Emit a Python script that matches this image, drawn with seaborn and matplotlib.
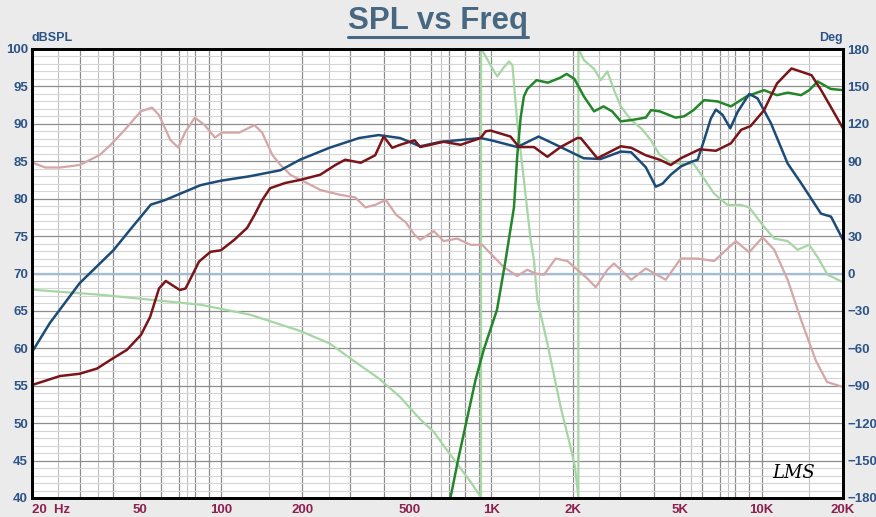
import numpy as np
import pandas as pd
import matplotlib.pyplot as plt
import seaborn as sns
from matplotlib.lines import Line2D
from matplotlib.ticker import NullFormatter

sns.set_style('white')
plt.rcParams['font.family'] = ['Liberation Sans', 'DejaVu Sans']

# SPL curves (dB, left axis)
blue_f = [20, 23.3, 30, 40, 46, 55, 62, 84, 100, 128, 166, 196, 252, 324, 383, 460, 546, 651,
          913, 1000, 1248, 1496, 1805, 2196, 2540, 3012, 3292, 3728, 4060, 4300, 4612, 5024,
          5470, 5800, 6124, 6486, 6773, 7168, 7657, 8152, 9000, 9660, 10820, 12480, 13980,
          16580, 18060, 20000]
blue_db = [59.5, 63.4, 68.7, 73.1, 75.8, 79.2, 79.8, 81.8, 82.4, 83.0, 83.8, 85.2, 86.8, 88.1,
           88.5, 88.1, 87.0, 87.6, 88.1, 87.8, 86.9, 88.3, 86.9, 85.4, 85.3, 86.3, 86.2, 84.2,
           81.6, 82.0, 83.2, 84.3, 84.9, 85.2, 87.8, 90.7, 91.9, 91.2, 89.4, 91.6, 94.0, 93.4,
           90.1, 84.7, 82.1, 78.0, 77.6, 74.5]

red_f = [20, 25.4, 30, 34.8, 40, 44.9, 50.6, 54.7, 59, 62.5, 70.4, 74, 83, 91.5, 100, 112, 125,
         133, 142, 152, 173, 196, 233, 265, 288, 329, 372, 400, 430, 460, 520, 546, 666, 770,
         913, 953, 994, 1178, 1266, 1438, 1612, 1805, 2080, 2142, 2468, 3012, 3292, 3728, 4200,
         4612, 5024, 5900, 6773, 7700, 8400, 9100, 10200, 11400, 12900, 15300, 16600, 18000,
         20000]
red_db = [55.1, 56.3, 56.6, 57.3, 58.7, 59.8, 61.8, 64.2, 68.0, 69.0, 67.8, 68.0, 71.6, 72.9,
          73.1, 74.5, 76.1, 77.8, 79.8, 81.4, 82.1, 82.5, 83.2, 84.5, 85.2, 84.8, 85.8, 88.3,
          86.8, 87.2, 87.8, 86.9, 87.6, 87.2, 88.1, 89.0, 89.1, 88.3, 86.9, 86.9, 85.6, 86.9,
          88.1, 88.1, 85.4, 87.0, 86.8, 85.8, 85.2, 84.5, 85.4, 86.6, 86.4, 87.4, 89.2, 89.7,
          91.8, 95.4, 97.4, 96.5, 94.5, 92.3, 89.4]

# phase curves (deg, right axis)
pink_f = [20, 22.4, 25.4, 30, 35.6, 39, 44, 50.5, 55.6, 59, 65, 69.5, 73.6, 80, 87, 95, 101,
          117, 133, 142, 155, 166, 181, 206, 233, 277, 314, 342, 372, 407, 445, 483, 520, 546,
          613, 666, 748, 838, 926, 994, 1114, 1248, 1359, 1458, 1566, 1730, 1912, 2080, 2266,
          2434, 2688, 2844, 3012, 3292, 3728, 4418, 5024, 5793, 6672, 8028, 8997, 10080,
          11133, 12480, 13978, 15880, 17460, 20000]
pink_deg = [89, 85, 85, 87, 95, 103, 115, 130, 133, 127, 107, 101, 113, 125, 119, 109, 113,
            113, 119, 113, 95, 87, 79, 73, 67, 63, 61, 53, 55, 59, 47, 41, 31, 27, 34, 26, 28,
            23, 23, 16, 5, -2, 3, 0, -1, 12, 10, 3, -4, -11, 3, 8, 3, -5, 4, -5, 12, 12, 10,
            26, 17, 29, 19, -5, -37, -70, -87, -91]

dkgreen_f = [706, 756, 875, 938, 1050, 1130, 1213, 1248, 1284, 1320, 1360, 1470, 1620, 1800,
             1900, 2030, 2200, 2400, 2600, 2800, 3012, 3292, 3728, 3900, 4200, 4800, 5166,
             5600, 6124, 6870, 7700, 8800, 10200, 11400, 12500, 14000, 15000, 16120, 18000,
             20000]
dkgreen_deg = [-180, -148, -85, -61, -29, 11, 53, 95, 125, 142, 148, 155, 153, 157, 160, 156,
               142, 130, 134, 130, 122, 123, 125, 131, 130, 125, 126, 131, 139, 138, 134, 142,
               147, 143, 145, 143, 147, 154, 148, 147]

ltgreen_f = [20, 35.6, 83.8, 128, 196, 252, 324, 383, 460, 546, 613, 651, 756, 838, 913, 916,
             916, 936, 1000, 1052, 1110, 1162, 1197, 1248, 1320, 1398, 1438, 1480, 1612, 1805,
             1968, 2040, 2100, 2100, 2204, 2400, 2540, 2688, 2844, 3012, 3292, 3600, 3890,
             4200, 4612, 5024, 5600, 6124, 6672, 7480, 8380, 9000, 10080, 11130, 12480, 13580,
             15000, 16120, 17550, 20000]
ltgreen_deg = [-13, -17, -25, -33, -46, -56, -73, -84, -99, -117, -127, -135, -154, -167, -179,
               -180, 180, 177, 166, 158, 165, 170, 167, 121, 75, 27, 11, -21, -56, -107, -140,
               -155, -180, 180, 171, 164, 155, 162, 147, 134, 123, 116, 107, 95, 89, 88, 88,
               76, 64, 55, 55, 53, 39, 28, 26, 19, 23, 13, -1, -7]

# axis ticks / grid
x_grid = [20, 30, 40, 50, 60, 70, 80, 90, 100, 200, 300, 400, 500, 600, 700, 800, 900,
          1000, 2000, 3000, 4000, 5000, 6000, 7000, 8000, 9000, 10000, 20000]
x_grid_light = [25, 35, 75, 150, 250, 650, 1500, 2500, 5500, 7500, 15000]
x_label_pos = [20, 50, 100, 200, 500, 1000, 2000, 5000, 10000, 20000]
x_label_txt = ['20  Hz', '50', '100', '200', '500', '1K', '2K', '5K', '10K', '20K']

fig = plt.figure(figsize=(8.76, 5.17), dpi=100, facecolor='#ecebec')
ax = fig.add_axes([32 / 876, 19 / 517, 811 / 876, 449 / 517])
ax2 = ax.twinx()

# phase axis (with the grid) sits behind, SPL axis on top
ax2.set_zorder(1)
ax.set_zorder(2)
ax.patch.set_visible(False)
ax2.patch.set_visible(True)
ax2.patch.set_facecolor('white')
ax2.xaxis.set_visible(True)

sns.lineplot(x=ltgreen_f, y=ltgreen_deg, ax=ax2, color='#a6d6a4', linewidth=1.6,
             estimator=None, sort=False)
sns.lineplot(x=pink_f, y=pink_deg, ax=ax2, color='#d4a6a8', linewidth=1.6,
             estimator=None, sort=False)
sns.lineplot(x=dkgreen_f, y=dkgreen_deg, ax=ax2, color='#23862a', linewidth=1.8,
             estimator=None, sort=False)

sns.lineplot(x=blue_f, y=blue_db, ax=ax, color='#1c4b78', linewidth=1.8,
             estimator=None, sort=False)
sns.lineplot(x=red_f, y=red_db, ax=ax, color='#7a1418', linewidth=1.8,
             estimator=None, sort=False)

ax.set_xscale('log')
ax.set_xlim(20, 20000)
ax.set_ylim(40, 100)
ax2.set_ylim(-180, 180)

# x ticks (shared) and labels on the front axis
ax.set_xticks(x_grid)
ax.set_xticks(x_grid_light, minor=True)
ax.set_xticklabels([x_label_txt[x_label_pos.index(v)] if v in x_label_pos else '' for v in x_grid])
ax.xaxis.set_minor_formatter(NullFormatter())
ax.set_yticks(np.arange(40, 101, 5))
ax.set_yticks([], minor=True)

# grid drawn on the back axis: 30 deg = 5 dB, 6 deg = 1 dB
ax2.set_yticks(np.arange(-180, 181, 30))
ax2.set_yticks(np.arange(-180, 181, 6), minor=True)
ax2.yaxis.set_minor_formatter(NullFormatter())
ax2.tick_params(axis='x', which='both', labelbottom=False, labeltop=False)
ax2.grid(which='major', axis='both', color='#8d8d8d', linewidth=0.9)
ax2.grid(which='minor', axis='y', color='#d6d6d6', linewidth=0.8)
ax2.grid(which='minor', axis='x', color='#c2c2c2', linewidth=0.8)
ax2.set_axisbelow(True)
ax2.axhline(0, color='#a3bdd6', linewidth=1.6, zorder=0.8)
ax.grid(False)

ax.tick_params(axis='both', which='both', length=0)
ax2.tick_params(axis='both', which='both', length=0)
ax.tick_params(axis='y', labelcolor='#2d5487', labelsize=9.5, pad=3)
ax2.tick_params(axis='y', labelcolor='#2d5487', labelsize=9.5, pad=3)
ax.tick_params(axis='x', labelcolor='#8e2050', labelsize=9.5, pad=4)
for lab in ax.get_yticklabels() + ax2.get_yticklabels() + ax.get_xticklabels():
    lab.set_fontweight('bold')
ax.get_xticklabels()[0].set_horizontalalignment('left')

ax.set_xlabel('')
ax.set_ylabel('')
ax2.set_xlabel('')
ax2.set_ylabel('')

for a in (ax, ax2):
    for s in a.spines.values():
        s.set_color('black')
        s.set_linewidth(2)

ax.text(0, 1.012, 'dBSPL', transform=ax.transAxes, ha='left', va='bottom',
        color='#2d5487', fontsize=9, fontweight='bold')
ax.text(1, 1.012, 'Deg', transform=ax.transAxes, ha='right', va='bottom',
        color='#2d5487', fontsize=9, fontweight='bold')
ax.text(0.965, 0.035, 'LMS', transform=ax.transAxes, ha='right', va='bottom',
        color='black', fontsize=13, fontstyle='italic', family='DejaVu Serif')

title = fig.text(438 / 876, 1 - 29 / 517, 'SPL vs Freq', ha='center', va='baseline',
                 color='#486882', fontsize=22.5, fontweight='bold')
fig.canvas.draw()
bb = title.get_window_extent()
uy = (bb.y0 - 1) / fig.bbox.height
fig.add_artist(Line2D([bb.x0 / fig.bbox.width, bb.x1 / fig.bbox.width], [uy, uy],
                      transform=fig.transFigure, color='#486882', linewidth=2.2))

fig.savefig('out.png', dpi=100, facecolor=fig.get_facecolor())
